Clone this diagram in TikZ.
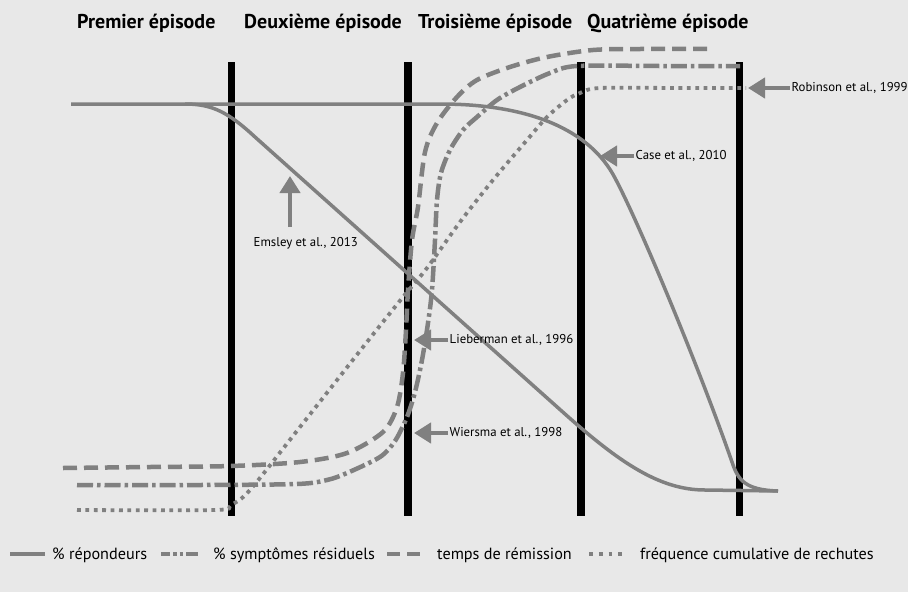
\documentclass[tikz,border=0pt]{standalone}
\usepackage{fontspec}
\setmainfont{PT Sans}
\usetikzlibrary{arrows.meta}
\definecolor{bgc}{RGB}{232,232,232}
\definecolor{lnc}{RGB}{128,128,128}
\tikzset{
  bar/.style={line width=7.5pt, black},
  resp/.style={line width=3.5pt, lnc, line cap=butt},
  remis/.style={line width=4.5pt, lnc, dash pattern=on 14pt off 7pt},
  resid/.style={line width=4.5pt, lnc, dash pattern=on 16pt off 4pt on 3.5pt off 4pt},
  rechute/.style={line width=3.8pt, lnc, dash pattern=on 3.8pt off 4.6pt},
  ann/.style={line width=4.5pt, lnc, -{Triangle[length=17pt,width=20pt]}},
  lbl/.style={font=\fontsize{12.8}{14}\selectfont, inner sep=1.5pt},
  ttl/.style={font=\fontsize{20}{22}\selectfont\bfseries, inner sep=0pt, anchor=base west},
  leg/.style={font=\fontsize{16.2}{18}\selectfont, inner sep=0pt, anchor=base west},
}
\begin{document}
\begin{tikzpicture}[x=1pt,y=-1pt]
\useasboundingbox[fill=bgc] (0,0) rectangle (908,592);

% titles
\node[ttl] (t1) at (77,28) {Premier épisode};
\node[ttl] (t2) at (244,28) {Deuxième épisode};
\node[ttl] (t3) at (418,28) {Troisième épisode};
\node[ttl] (t4) at (587,28) {Quatrième épisode};

% episode bars
\foreach \i/\x in {1/231.5,2/408,3/581,4/739.5}{
  \coordinate (b\i top) at (\x,62);
  \coordinate (b\i bot) at (\x,516);
  \draw[bar] (b\i top) -- (b\i bot);
}

% % répondeurs
\draw[resp] (71,104) -- (185,104) .. controls (212,104) and (228,112) .. (255,137)
  -- (565,414) .. controls (620,463) and (660,490) .. (705,490) -- (778,491);
\draw[resp] (185,104) -- (440,104) .. controls (530,104) and (590,130) .. (615,178)
  .. controls (640,225) and (700,370) .. (732,462)
  .. controls (738,480) and (745,490) .. (778,491);

% temps de rémission
\draw[remis] plot[smooth] coordinates {(63,468) (150,467) (231,466) (300,462) (347,453) (383,432) (397,407) (403,373) (406,330) (408,290) (412,240) (418,207) (425,152) (437,123) (457,97) (477,80) (510,67) (547,57) (593,50) (640,49) (711,49)};

% % symptômes résiduels
\draw[resid] plot[smooth] coordinates {(77,485) (200,485) (297,484) (327,480) (347,473) (380,457) (395,441) (407,417) (415,392) (422,360) (428,323) (432,290) (435,240) (437,200) (441,173) (450,150) (463,130) (477,117) (497,100) (520,87) (550,73) (577,66) (660,66) (740,66)};

% fréquence cumulative de rechutes
\draw[rechute] plot[smooth] coordinates {(77,510) (215,510) (231,505) (250,490) (300,427) (367,342) (403,297) (427,268) (460,222) (493,180) (527,140) (547,117) (567,100) (580,93) (600,88) (680,88) (746,88)};

% annotations
\node[lbl, anchor=base west] (emsley) at (252,246) {Emsley et al., 2013};
\coordinate (emsleyTail) at (290,227);
\coordinate (emsleyTip) at (290,176);
\draw[ann] (emsleyTail) -- (emsleyTip);

\node[lbl, anchor=west] (case) at (634,156) {Case et al., 2010};
\coordinate (caseTip) at (600,156);
\draw[ann] (case.west) -- (caseTip);

\node[lbl, anchor=west] (robin) at (790,88) {Robinson et al., 1999};
\coordinate (robinTip) at (748,88);
\draw[ann] (robin.west) -- (robinTip);

\node[lbl, anchor=west] (lieb) at (448,340) {Lieberman et al., 1996};
\coordinate (liebTip) at (414,340);
\draw[ann] (lieb.west) -- (liebTip);

\node[lbl, anchor=west] (wier) at (448,433) {Wiersma et al., 1998};
\coordinate (wierTip) at (414,433);
\draw[ann] (wier.west) -- (wierTip);

% legend
\coordinate (l1a) at (10,554); \coordinate (l1b) at (45,554);
\draw[resp] (l1a) -- (l1b);
\node[leg] (leg1) at (52,559) {\% répondeurs};
\coordinate (l2a) at (161,554); \coordinate (l2b) at (198,554);
\draw[line width=4.5pt, lnc, dash pattern=on 9pt off 3pt on 3.5pt off 3pt on 3.5pt off 3pt on 17pt off 10pt] (l2a) -- (l2b);
\node[leg] (leg2) at (213,559) {\% symptômes résiduels};
\coordinate (l3a) at (387,554); \coordinate (l3b) at (420,554);
\draw[line width=4.5pt, lnc, dash pattern=on 13pt off 7pt] (l3a) -- (l3b);
\node[leg] (leg3) at (437,559) {temps de rémission};
\coordinate (l4a) at (589,554); \coordinate (l4b) at (626,554);
\draw[line width=3.8pt, lnc, dash pattern=on 3.8pt off 6pt] (l4a) -- (l4b);
\node[leg] (leg4) at (640,559) {fréquence cumulative de rechutes};
\end{tikzpicture}
\end{document}
